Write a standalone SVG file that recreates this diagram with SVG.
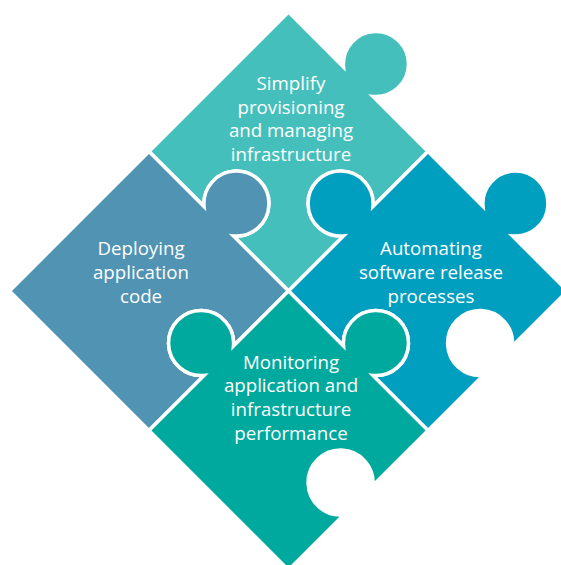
<svg xmlns="http://www.w3.org/2000/svg" width="561" height="565" viewBox="0 0 561 565">
  <style>
    .piece { stroke: #ffffff; stroke-width: 3.5; stroke-linejoin: miter; }
    .lbl { font-family: "Open Sans", "Noto Sans", "Liberation Sans", sans-serif; font-size: 18.7px; font-weight: 500; fill: #ffffff; text-anchor: middle; }
  </style>
  <rect width="561" height="565" fill="#ffffff"/>
  <g id="piece-top">
    <path class="piece" fill="#45BFBB" transform="translate(288.5,291) rotate(45)"
      d="M -197.3 -197.3 L -119.42 -197.3 A 32.5 32.5 0 1 1 -77.88 -197.3 L 0 -197.3 L 0 -119.42 A 32.5 32.5 0 1 0 0 -77.88 L 0 0 L -77.88 0 A 32.5 32.5 0 1 0 -119.42 0 L -197.3 0 Z"/>
    <text class="lbl" x="291" y="90">Simplify</text>
    <text class="lbl" x="291" y="113.5">provisioning</text>
    <text class="lbl" x="291" y="137">and managing</text>
    <text class="lbl" x="291" y="160.5">infrastructure</text>
  </g>
  <g id="piece-right">
    <path class="piece" fill="#009EBF" transform="translate(288.5,291) rotate(45)"
      d="M 0 -197.3 L 77.88 -197.3 A 32.5 32.5 0 1 1 119.42 -197.3 L 197.3 -197.3 L 197.3 -119.42 A 32.5 32.5 0 1 0 197.3 -77.88 L 197.3 0 L 119.42 0 A 32.5 32.5 0 1 0 77.88 0 L 0 0 L 0 -77.88 A 32.5 32.5 0 1 1 0 -119.42 Z"/>
    <text class="lbl" x="431" y="255">Automating</text>
    <text class="lbl" x="431" y="279">software release</text>
    <text class="lbl" x="431" y="302.5">processes</text>
  </g>
  <g id="piece-left">
    <path class="piece" fill="#5093B3" transform="translate(288.5,291) rotate(45)"
      d="M -197.3 0 L -119.42 0 A 32.5 32.5 0 1 1 -77.88 0 L 0 0 L 0 77.88 A 32.5 32.5 0 1 0 0 119.42 L 0 197.3 L -197.3 197.3 Z"/>
    <text class="lbl" x="141" y="255">Deploying</text>
    <text class="lbl" x="141" y="278.5">application</text>
    <text class="lbl" x="141" y="302.5">code</text>
  </g>
  <g id="piece-bottom">
    <path class="piece" fill="#00A99D" transform="translate(288.5,291) rotate(45)"
      d="M 0 0 L 77.88 0 A 32.5 32.5 0 1 1 119.42 0 L 197.3 0 L 197.3 77.88 A 32.5 32.5 0 1 0 197.3 119.42 L 197.3 197.3 L 0 197.3 L 0 119.42 A 32.5 32.5 0 1 1 0 77.88 Z"/>
    <text class="lbl" x="291" y="368.5">Monitoring</text>
    <text class="lbl" x="291" y="392">application and</text>
    <text class="lbl" x="291" y="416">infrastructure</text>
    <text class="lbl" x="291" y="440">performance</text>
  </g>
  <g id="connectors"></g>
</svg>
